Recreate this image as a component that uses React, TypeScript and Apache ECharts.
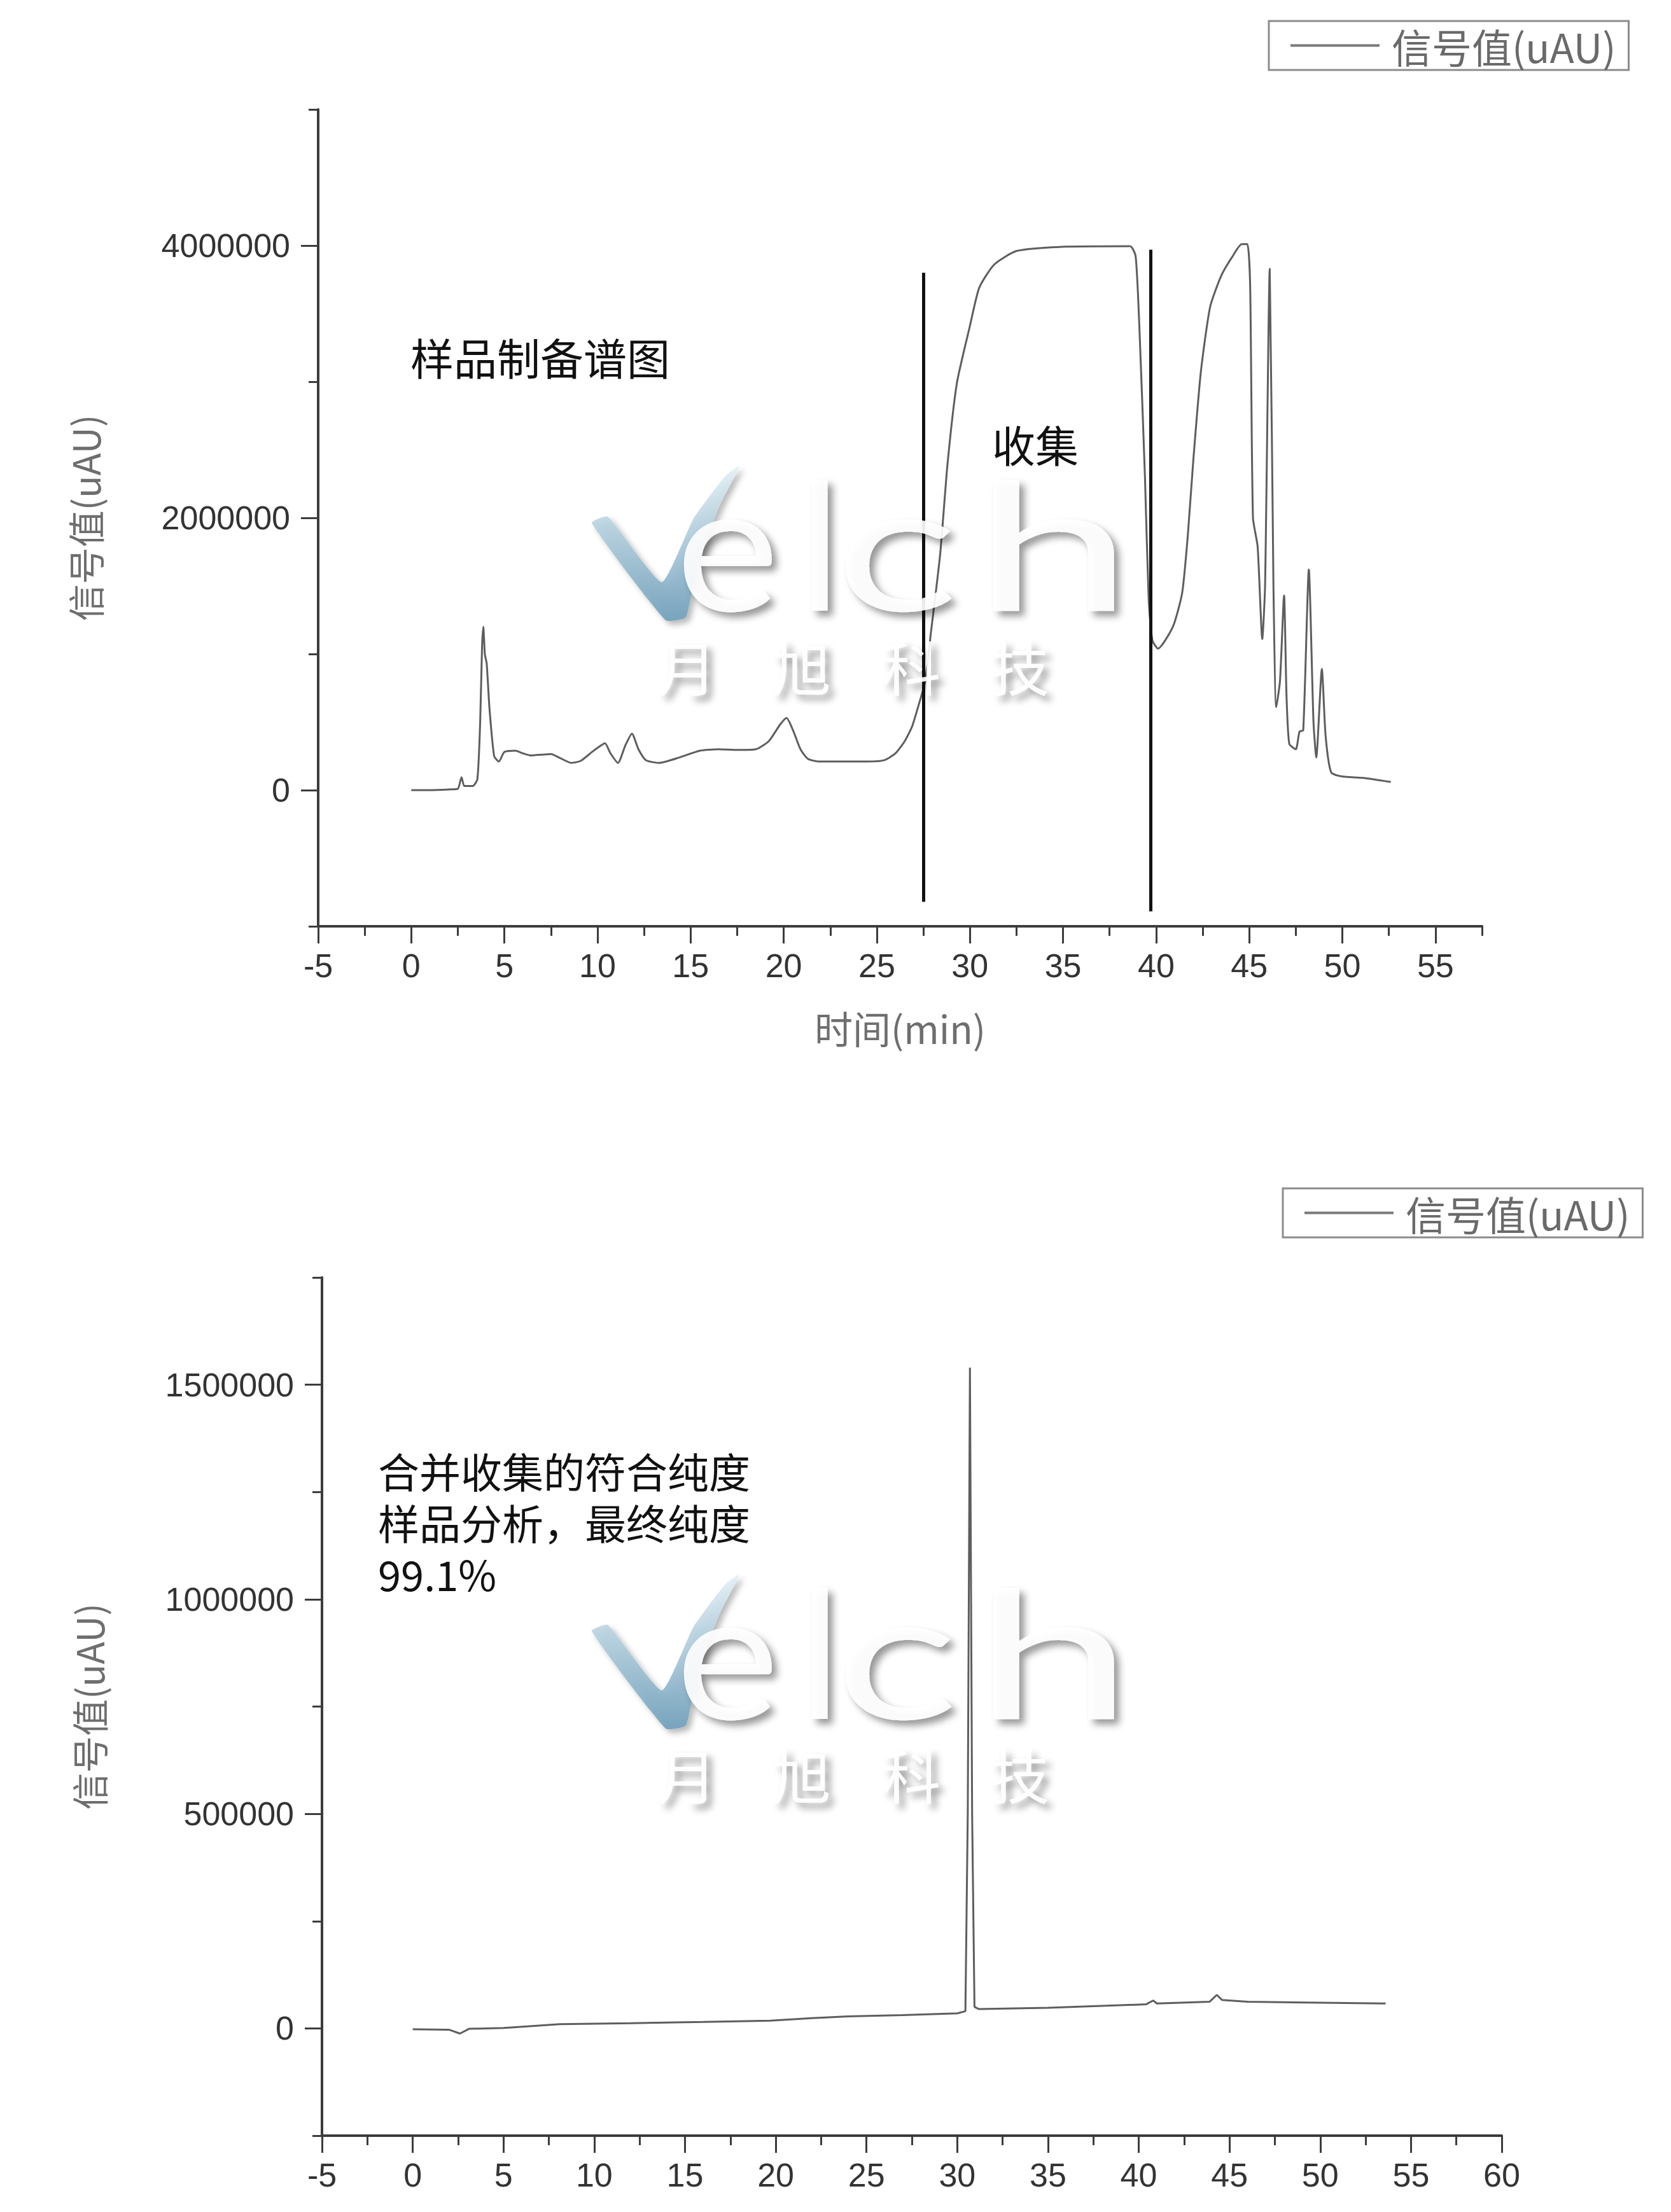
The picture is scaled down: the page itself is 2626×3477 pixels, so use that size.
import React, { useEffect, useRef } from "react";
import * as echarts from "echarts";

// ---------- texts ----------
const SERIES_NAME = "信号值(uAU)";
const X_AXIS_NAME = "时间(min)";
const Y_AXIS_NAME = "信号值(uAU)";
const PREP_TITLE = "样品制备谱图";
const COLLECT_LABEL = "收集";
const ANALYSIS_NOTE = "合并收集的符合纯度\n样品分析，最终纯度\n99.1%";
const WATERMARK_EN = ["e", "l", "c", "h"];
const WATERMARK_CN = ["月", "旭", "科", "技"];

// ---------- top chart (preparative run) ----------
const prepTime = [
  0, 1, 2, 2.5, 2.7, 2.85, 3.3, 3.55, 3.7, 3.8, 3.87, 3.95, 4.05, 4.2, 4.45, 4.7,
  5.0, 5.6, 6.0, 6.4, 7.0, 7.5, 8.0, 8.6, 9.1, 9.7, 10.1, 10.4, 10.7, 11.1, 11.5, 11.85,
  12.2, 12.6, 13.3, 14.4, 15.5, 16.5, 17.5, 18.5, 19.2, 19.8, 20.15, 20.5, 20.9, 21.3, 21.9, 23.0,
  24.5, 25.4, 26.0, 26.5, 26.9, 27.3, 27.6, 27.9, 28.4, 28.8, 29.3, 30.0, 30.5, 31.3, 32.5, 34.8,
  38.6, 38.9, 39.1, 39.4, 39.6, 39.8, 40.1, 40.9, 41.4, 41.7, 42.0, 42.4, 42.9, 43.5, 44.1, 44.6,
  44.9, 45.05, 45.2, 45.45, 45.7, 45.85, 46.1, 46.3, 46.45, 46.65, 46.87, 47.0, 47.15, 47.5, 47.7, 47.9,
  48.2, 48.45, 48.6, 48.9, 49.1, 49.4, 50.0, 51.1, 52.6,
];
const prepSignal = [
  0, 0, 5000, 10000, 95000, 30000, 30000, 80000, 500000, 1050000, 1200000, 1000000, 930000, 600000, 250000, 210000,
  280000, 290000, 270000, 255000, 260000, 265000, 235000, 200000, 215000, 280000, 320000, 345000, 270000, 200000, 330000, 415000,
  300000, 220000, 200000, 240000, 290000, 300000, 295000, 300000, 360000, 480000, 530000, 440000, 300000, 230000, 210000, 210000,
  210000, 220000, 270000, 360000, 470000, 650000, 800000, 1150000, 1730000, 2400000, 2990000, 3410000, 3690000, 3860000, 3960000, 3990000,
  3995000, 3920000, 3400000, 2300000, 1400000, 1100000, 1040000, 1200000, 1450000, 1870000, 2430000, 3070000, 3550000, 3780000, 3920000, 4010000,
  4010000, 3700000, 2000000, 1790000, 1110000, 1500000, 3830000, 1500000, 610000, 800000, 1430000, 700000, 340000, 300000, 430000, 440000,
  1620000, 500000, 240000, 890000, 400000, 130000, 100000, 90000, 60000,
];
// collection window markers
const collectLineX = [27.5, 39.7];
const collectLineBottom = [-820000, -890000];
const collectLineTop = [3800000, 3970000];

const prepXMin = -5;
const prepXMax = 57.5;
const prepXTicks = [-5, 0, 5, 10, 15, 20, 25, 30, 35, 40, 45, 50, 55];
const prepXMinorTicks = [-2.5, 2.5, 7.5, 12.5, 17.5, 22.5, 27.5, 32.5, 37.5, 42.5, 47.5, 52.5, 57.5];
const prepYMin = -1000000;
const prepYMax = 5000000;
const prepYTicks = [0, 2000000, 4000000];
const prepYMinorTicks = [-1000000, 1000000, 3000000, 5000000];

// ---------- bottom chart (purity analysis) ----------
const anaTime = [
  0, 2.0, 2.6, 3.1, 5.0, 6.3, 8.1, 12.0, 16.0, 19.7, 22.0, 24.0, 27.0, 30.0, 30.45,
  30.58, 30.7, 30.82, 30.95, 31.2, 35.0, 40.4, 40.8, 41.0, 43.9, 44.3, 44.6, 46.0, 53.6,
];
const anaSignal = [
  -2000, -3000, -12000, -1000, 1000, 4500, 10000, 12000, 15000, 18000, 24000, 28000, 31000, 35000, 40000,
  500000, 1540000, 500000, 50000, 45000, 48000, 56000, 65000, 58000, 62000, 78000, 66000, 62000, 58000,
];
const anaXMin = -5;
const anaXMax = 60;
const anaXTicks = [-5, 0, 5, 10, 15, 20, 25, 30, 35, 40, 45, 50, 55, 60];
const anaXMinorTicks = [-2.5, 2.5, 7.5, 12.5, 17.5, 22.5, 27.5, 32.5, 37.5, 42.5, 47.5, 52.5, 57.5];
const anaYMin = -250000;
const anaYMax = 1750000;
const anaYTicks = [0, 500000, 1000000, 1500000];
const anaYMinorTicks = [-250000, 250000, 750000, 1250000, 1750000];

// ---------- styles ----------
const AXIS_COLOR = "#3c3c3c";
const LABEL_COLOR = "#333333";
const NAME_COLOR = "#6e6e6e";
const CURVE_COLOR = "#5e5e5e";
const LATIN_FONT = "'Liberation Sans', Arial, sans-serif";
const CJK_FONT = "'Noto Sans CJK SC', 'Liberation Sans', sans-serif";

function majorXAxis(gridIndex: number, min: number, max: number, ticks: number[], name?: string) {
  return {
    type: "value",
    gridIndex,
    position: "bottom",
    min,
    max,
    axisLine: { show: true, onZero: false, lineStyle: { color: AXIS_COLOR, width: 4 } },
    axisTick: { show: true, inside: false, length: 27, customValues: ticks, lineStyle: { color: AXIS_COLOR, width: 3 } },
    axisLabel: {
      show: true,
      customValues: ticks,
      margin: 36,
      fontSize: 52,
      color: LABEL_COLOR,
      fontFamily: LATIN_FONT,
      formatter: (v: number) => (ticks.indexOf(v) >= 0 ? String(v) : ""),
    },
    splitLine: { show: false },
    name: name || "",
    nameLocation: "middle",
    nameGap: 128,
    nameTextStyle: { fontSize: 60, color: NAME_COLOR, fontFamily: CJK_FONT },
  };
}

function minorXAxis(gridIndex: number, min: number, max: number, ticks: number[]) {
  return {
    type: "value",
    gridIndex,
    position: "bottom",
    min,
    max,
    axisLine: { show: false, onZero: false },
    axisTick: { show: true, inside: false, length: 15, customValues: ticks, lineStyle: { color: AXIS_COLOR, width: 3 } },
    axisLabel: { show: false },
    splitLine: { show: false },
  };
}

function majorYAxis(gridIndex: number, min: number, max: number, ticks: number[], nameGap: number) {
  return {
    type: "value",
    gridIndex,
    position: "left",
    min,
    max,
    axisLine: { show: true, onZero: false, lineStyle: { color: AXIS_COLOR, width: 4 } },
    axisTick: { show: true, inside: false, length: 27, customValues: ticks, lineStyle: { color: AXIS_COLOR, width: 3 } },
    axisLabel: {
      show: true,
      customValues: ticks,
      margin: 44,
      fontSize: 52,
      color: LABEL_COLOR,
      fontFamily: LATIN_FONT,
      formatter: (v: number) => (ticks.indexOf(v) >= 0 ? String(v) : ""),
    },
    splitLine: { show: false },
    name: Y_AXIS_NAME,
    nameLocation: "middle",
    nameGap,
    nameTextStyle: { fontSize: 58, color: NAME_COLOR, fontFamily: CJK_FONT },
  };
}

function minorYAxis(gridIndex: number, min: number, max: number, ticks: number[]) {
  return {
    type: "value",
    gridIndex,
    position: "left",
    min,
    max,
    axisLine: { show: false, onZero: false },
    axisTick: { show: true, inside: false, length: 15, customValues: ticks, lineStyle: { color: AXIS_COLOR, width: 3 } },
    axisLabel: { show: false },
    splitLine: { show: false },
  };
}

function legendAt(left: number, top: number) {
  return {
    left,
    top,
    orient: "horizontal",
    data: [{ name: SERIES_NAME, icon: "rect", itemStyle: { color: "#7a7a7a" } }],
    selectedMode: false,
    itemWidth: 140,
    itemHeight: 4,
    padding: [7, 20, 7, 34],
    borderColor: "#8c8c8c",
    borderWidth: 3,
    borderRadius: 0,
    backgroundColor: "#ffffff",
    textStyle: { fontSize: 63, color: "#6a6a6a", fontFamily: CJK_FONT, padding: [0, 0, 0, 14] },
  };
}

function watermark(dy: number) {
  const shadow = {
    textShadowColor: "rgba(0,0,0,0.45)",
    textShadowBlur: 12,
    textShadowOffsetX: 8,
    textShadowOffsetY: 8,
  };
  const letterX = [1062, 1255, 1312, 1530];
  const letterScale = [1.1, 1.0, 1.45, 1.6];
  const cnX = [1080, 1260, 1432, 1603];
  const els: any[] = [];
  els.push({
    type: "polygon",
    silent: true,
    z: 100,
    shape: {
      points: [
        [930, 822 + dy], [955, 812 + dy], [1040, 915 + dy], [1090, 815 + dy], [1140, 748 + dy],
        [1162, 733 + dy], [1132, 792 + dy], [1097, 880 + dy], [1078, 970 + dy], [1046, 975 + dy],
      ],
      smooth: 0.15,
    },
    style: {
      fill: {
        type: "linear", x: 0, y: 0, x2: 0, y2: 1,
        colorStops: [
          { offset: 0, color: "#e3f0f6" },
          { offset: 1, color: "#6f9fbb" },
        ],
      },
      opacity: 0.9,
      shadowColor: "rgba(0,0,0,0.3)",
      shadowBlur: 10,
      shadowOffsetX: 6,
      shadowOffsetY: 6,
    },
  });
  WATERMARK_EN.forEach((ch, i) => {
    els.push({
      type: "text",
      silent: true,
      z: 100,
      x: letterX[i],
      y: 852 + dy,
      scaleX: letterScale[i],
      scaleY: 1,
      style: {
        text: ch,
        x: 0,
        y: 0,
        align: "left",
        verticalAlign: "middle",
        fontSize: 280,
        lineHeight: 190,
        fontFamily: "Lato, 'Noto Sans', sans-serif",
        fill: "#ffffff",
        opacity: 0.9,
        ...shadow,
      },
    });
  });
  WATERMARK_CN.forEach((ch, i) => {
    els.push({
      type: "text",
      silent: true,
      z: 100,
      style: {
        text: ch,
        x: cnX[i],
        y: 1045 + dy,
        align: "center",
        verticalAlign: "middle",
        fontSize: 92,
        lineHeight: 90,
        fontFamily: CJK_FONT,
        fill: "#ffffff",
        opacity: 0.9,
        ...shadow,
      },
    });
  });
  return els;
}

export default function App() {
  const ref = useRef<HTMLDivElement>(null);

  useEffect(() => {
    document.body.style.margin = "0";
    if (!ref.current) return;
    const chart = echarts.init(ref.current, undefined, { renderer: "svg" });

    const prepData = prepTime.map((t, i) => [t, prepSignal[i]]);
    const anaData = anaTime.map((t, i) => [t, anaSignal[i]]);

    const option: any = {
      animation: false,
      backgroundColor: "#ffffff",
      legend: [legendAt(1994, 33), legendAt(2016, 1868)],
      grid: [
        { left: 500, top: 172, width: 1829, height: 1284, containLabel: false, outerBoundsMode: "none" },
        { left: 506, top: 2008, width: 1854, height: 1349, containLabel: false, outerBoundsMode: "none" },
      ],
      xAxis: [
        majorXAxis(0, prepXMin, prepXMax, prepXTicks, X_AXIS_NAME),
        minorXAxis(0, prepXMin, prepXMax, prepXMinorTicks),
        majorXAxis(1, anaXMin, anaXMax, anaXTicks),
        minorXAxis(1, anaXMin, anaXMax, anaXMinorTicks),
      ],
      yAxis: [
        majorYAxis(0, prepYMin, prepYMax, prepYTicks, 338),
        minorYAxis(0, prepYMin, prepYMax, prepYMinorTicks),
        majorYAxis(1, anaYMin, anaYMax, anaYTicks, 338),
        minorYAxis(1, anaYMin, anaYMax, anaYMinorTicks),
      ],
      series: [
        {
          type: "line",
          name: SERIES_NAME,
          xAxisIndex: 0,
          yAxisIndex: 0,
          data: prepData,
          symbol: "none",
          showSymbol: false,
          smooth: 0.2,
          lineStyle: { color: CURVE_COLOR, width: 3 },
          itemStyle: { color: CURVE_COLOR },
          z: 3,
          markLine: {
            silent: true,
            symbol: ["none", "none"],
            label: { show: false },
            lineStyle: { color: "#111111", width: 5, type: "solid" },
            data: collectLineX.map((x, i) => [
              { coord: [x, collectLineBottom[i]] },
              { coord: [x, collectLineTop[i]] },
            ]),
          },
        },
        {
          type: "line",
          name: SERIES_NAME,
          xAxisIndex: 2,
          yAxisIndex: 2,
          data: anaData,
          symbol: "none",
          showSymbol: false,
          smooth: false,
          lineStyle: { color: CURVE_COLOR, width: 3 },
          itemStyle: { color: CURVE_COLOR },
          z: 3,
        },
      ],
      graphic: [
        {
          type: "text",
          silent: true,
          z: 50,
          style: {
            text: PREP_TITLE,
            x: 645,
            y: 560,
            align: "left",
            verticalAlign: "middle",
            fontSize: 68,
            fontFamily: CJK_FONT,
            fill: "#111111",
          },
        },
        {
          type: "text",
          silent: true,
          z: 50,
          style: {
            text: COLLECT_LABEL,
            x: 1559,
            y: 697,
            align: "left",
            verticalAlign: "middle",
            fontSize: 68,
            lineHeight: 64,
            fontFamily: CJK_FONT,
            fill: "#111111",
          },
        },
        {
          type: "text",
          silent: true,
          z: 50,
          style: {
            text: ANALYSIS_NOTE,
            x: 594,
            y: 2270,
            align: "left",
            verticalAlign: "top",
            fontSize: 65,
            lineHeight: 81,
            fontFamily: CJK_FONT,
            fill: "#111111",
          },
        },
        ...watermark(0),
        ...watermark(1742),
      ],
    };

    chart.setOption(option);
    return () => {
      chart.dispose();
    };
  }, []);

  return <div ref={ref} style={{ width: "2626px", height: "3477px", background: "#ffffff" }} />;
}
